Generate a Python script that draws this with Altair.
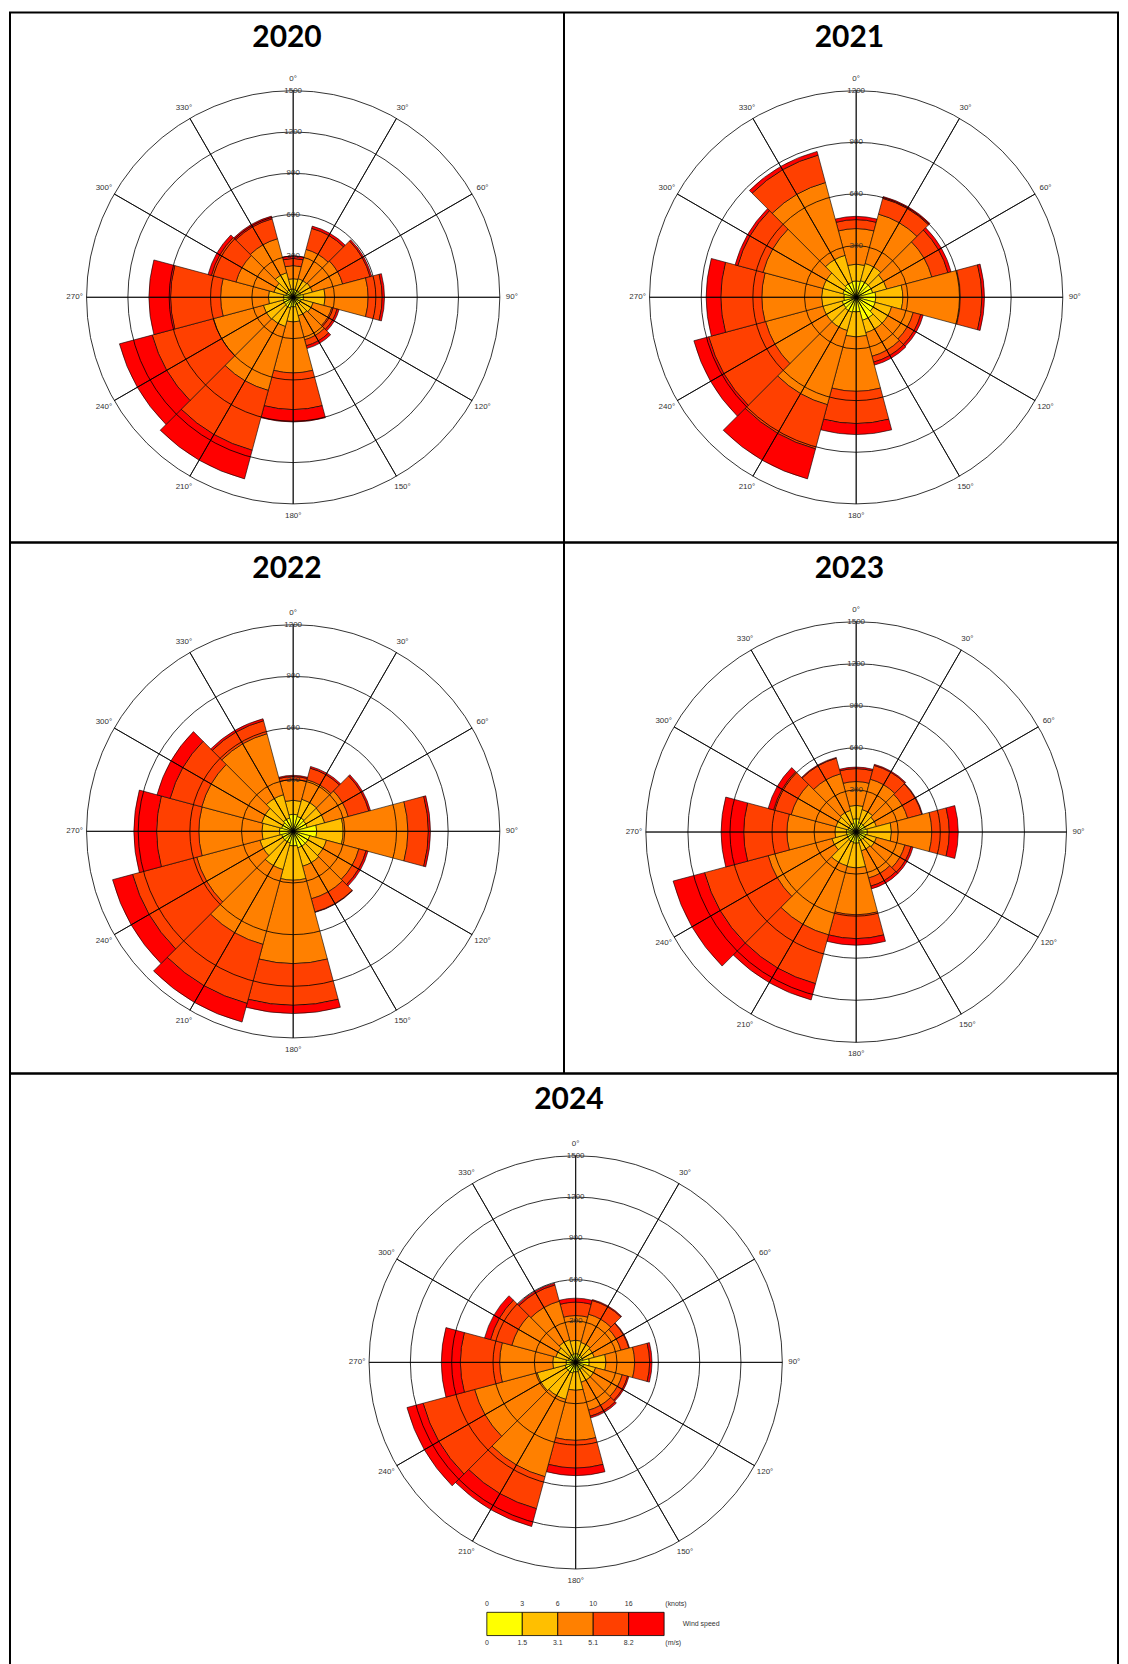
import math
import altair as alt
import pandas as pd

# ---------------- data ----------------
DIRECTIONS = [0, 30, 60, 90, 120, 150, 180, 210, 240, 270, 300, 330]
DIR_LABELS = ["0°", "30°", "60°", "90°", "120°", "150°", "180°", "210°", "240°", "270°", "300°", "330°"]
BANDS = ["0-1.5", "1.5-3.1", "3.1-5.1", "5.1-8.2", ">8.2"]
BAND_COLORS = ["#FFFF00", "#FFBF00", "#FF8000", "#FF4000", "#FF0000"]
KNOT_LABELS = ["0", "3", "6", "10", "16"]
MS_LABELS = ["0", "1.5", "3.1", "5.1", "8.2"]
YEARS = ["2020", "2021", "2022", "2023", "2024"]
RADIAL_MAX = [1500, 1200, 1200, 1500, 1500]

Y2020_B1 = [60, 55, 55, 75, 60, 55, 70, 80, 75, 70, 55, 60]
Y2020_B2 = [75, 85, 90, 157, 90, 85, 109, 140, 150, 110, 90, 125]
Y2020_B3 = [95, 220, 227, 312, 140, 180, 370, 480, 375, 347, 285, 255]
Y2020_B4 = [52, 158, 206, 102, 40, 45, 266, 450, 460, 363, 185, 150]
Y2020_B5 = [20, 17, 12, 17, 15, 20, 90, 215, 246, 157, 25, 20]

Y2021_B1 = [95, 100, 100, 114, 115, 139, 85, 90, 85, 72, 80, 90]
Y2021_B2 = [97, 103, 84, 157, 98, 74, 145, 110, 115, 129, 120, 162]
Y2021_B3 = [207, 297, 271, 334, 130, 142, 316, 446, 345, 347, 360, 438]
Y2021_B4 = [52, 95, 97, 125, 45, 35, 187, 266, 342, 238, 152, 165]
Y2021_B5 = [19, 11, 19, 15, 15, 18, 64, 180, 89, 85, 16, 22]

Y2022_B1 = [99, 90, 85, 137, 100, 100, 85, 70, 70, 80, 70, 80]
Y2022_B2 = [81, 103, 105, 153, 100, 110, 199, 160, 130, 102, 120, 140]
Y2022_B3 = [120, 117, 141, 376, 195, 196, 484, 450, 380, 366, 360, 367]
Y2022_B4 = [18, 70, 124, 119, 43, 79, 242, 355, 386, 245, 190, 78]
Y2022_B5 = [7, 10, 10, 12, 12, 3, 48, 112, 120, 132, 79, 12]

Y2023_B1 = [95, 70, 70, 80, 70, 65, 80, 75, 70, 70, 60, 65]
Y2023_B2 = [95, 96, 80, 172, 80, 75, 176, 175, 110, 82, 90, 95]
Y2023_B3 = [170, 224, 230, 287, 210, 200, 334, 510, 470, 342, 330, 270]
Y2023_B4 = [92, 102, 105, 125, 45, 60, 170, 360, 470, 308, 130, 115]
Y2023_B5 = [11, 8, 5, 64, 15, 20, 47, 120, 232, 161, 40, 6]

Y2024_B1 = [63, 60, 55, 99, 60, 60, 70, 80, 80, 70, 55, 60]
Y2024_B2 = [97, 90, 85, 121, 90, 90, 133, 198, 210, 97, 95, 110]
Y2024_B3 = [180, 212, 200, 208, 200, 210, 363, 582, 470, 385, 330, 290]
Y2024_B4 = [97, 103, 60, 109, 40, 45, 201, 240, 387, 285, 160, 122]
Y2024_B5 = [29, 7, 5, 17, 10, 13, 55, 134, 121, 138, 45, 13]

YEAR_BANDS = [
    [Y2020_B1, Y2020_B2, Y2020_B3, Y2020_B4, Y2020_B5],
    [Y2021_B1, Y2021_B2, Y2021_B3, Y2021_B4, Y2021_B5],
    [Y2022_B1, Y2022_B2, Y2022_B3, Y2022_B4, Y2022_B5],
    [Y2023_B1, Y2023_B2, Y2023_B3, Y2023_B4, Y2023_B5],
    [Y2024_B1, Y2024_B2, Y2024_B3, Y2024_B4, Y2024_B5],
]

# ---------------- layout constants ----------------
CELL_W = 555
FULL_W = 2 * CELL_W
ROW_H = [531, 532, 600]
SECTOR = 30
LABEL_FONT = "Liberation Sans"
TITLE_FONT = "Lato"
TEXT_GREY = "#333333"

THETA_SCALE = alt.Scale(domain=[0, 360], range=[0, 2 * math.pi], nice=False)
BAND_SCALE = alt.Scale(domain=BANDS, range=BAND_COLORS)


def rose_layers(year_idx, cx, cy, R, tx, ty):
    year = YEARS[year_idx]
    rmax = RADIAL_MAX[year_idx]
    bands = YEAR_BANDS[year_idx]
    rscale = alt.Scale(type="linear", domain=[0, rmax], range=[0, R], nice=False, zero=True)

    rows = []
    for i, d in enumerate(DIRECTIONS):
        cum = 0
        for k, b in enumerate(BANDS):
            v = bands[k][i]
            rows.append({"t0": d - SECTOR / 2, "t1": d + SECTOR / 2,
                         "r0": cum, "r1": cum + v, "band": b})
            cum += v
    seg = pd.DataFrame(rows)

    ticks = list(range(300, rmax + 1, 300))
    circ = pd.DataFrame({"tick": ticks, "t0": [0] * len(ticks), "t1": [360] * len(ticks),
                         "lab": [str(t) for t in ticks]})
    spk = pd.DataFrame({"angle": DIRECTIONS, "r": [rmax] * len(DIRECTIONS),
                        "lab": DIR_LABELS})

    bars = alt.Chart(seg).mark_arc(stroke="black", strokeWidth=0.6).encode(
        x=alt.value(cx), y=alt.value(cy),
        theta=alt.Theta("t0:Q", stack=False, scale=THETA_SCALE),
        theta2="t1:Q",
        radius=alt.Radius("r1:Q", stack=False, scale=rscale),
        radius2="r0:Q",
        color=alt.Color("band:N", scale=BAND_SCALE, legend=None),
    )
    circles = alt.Chart(circ).mark_arc(filled=False, stroke="black", strokeWidth=0.8).encode(
        x=alt.value(cx), y=alt.value(cy),
        theta=alt.Theta("t0:Q", stack=False, scale=THETA_SCALE),
        theta2="t1:Q",
        radius=alt.Radius("tick:Q", stack=False, scale=rscale),
    )
    spokes = alt.Chart(spk).mark_arc(filled=False, stroke="black", strokeWidth=0.8).encode(
        x=alt.value(cx), y=alt.value(cy),
        theta=alt.Theta("angle:Q", stack=False, scale=THETA_SCALE),
        theta2="angle:Q",
        radius=alt.Radius("r:Q", stack=False, scale=rscale),
    )
    alabels = alt.Chart(spk).mark_text(font=LABEL_FONT, fontSize=8, color=TEXT_GREY,
                                       baseline="middle", align="center").encode(
        x=alt.value(cx), y=alt.value(cy),
        theta=alt.Theta("angle:Q", stack=False, scale=THETA_SCALE),
        radius=alt.value(R + 12),
        text="lab:N",
    )
    tlabels = alt.Chart(circ).mark_text(font=LABEL_FONT, fontSize=8, color=TEXT_GREY,
                                        baseline="middle", align="center").encode(
        x=alt.value(cx), y=alt.value(cy),
        theta=alt.value(0),
        radius=alt.Radius("tick:Q", stack=False, scale=rscale),
        text="lab:N",
    )
    title = alt.Chart(pd.DataFrame({"t": [year]})).mark_text(
        font=TITLE_FONT, fontSize=30, fontWeight="bold", color="black",
        baseline="middle", align="center").encode(
        x=alt.value(tx), y=alt.value(ty), text="t:N")

    return [bars, circles, spokes, alabels, tlabels, title]


def legend_layers():
    lx = alt.Scale(domain=[0, 5], range=[477.7, 655.3], nice=False)
    leg = pd.DataFrame({"i": list(range(5)), "i2": list(range(1, 6)), "band": BANDS,
                        "kn": KNOT_LABELS, "ms": MS_LABELS})
    boxes = alt.Chart(leg).mark_rect(stroke="black", strokeWidth=0.8).encode(
        x=alt.X("i:Q", scale=lx, axis=None), x2="i2:Q",
        y=alt.value(539.7), y2=alt.value(563),
        color=alt.Color("band:N", scale=BAND_SCALE, legend=None),
    )
    top = alt.Chart(leg).mark_text(font=LABEL_FONT, fontSize=7, color=TEXT_GREY,
                                   baseline="middle", align="center").encode(
        x=alt.X("i:Q", scale=lx, axis=None), y=alt.value(531.3), text="kn:N")
    bot = alt.Chart(leg).mark_text(font=LABEL_FONT, fontSize=7, color=TEXT_GREY,
                                   baseline="middle", align="center").encode(
        x=alt.X("i:Q", scale=lx, axis=None), y=alt.value(570.3), text="ms:N")
    one = pd.DataFrame({"a": [0]})
    knots = alt.Chart(one).mark_text(font=LABEL_FONT, fontSize=7, color=TEXT_GREY,
                                     baseline="middle", align="left", text="(knots)").encode(
        x=alt.value(656.5), y=alt.value(531.3))
    ws = alt.Chart(one).mark_text(font=LABEL_FONT, fontSize=7, color=TEXT_GREY,
                                  baseline="middle", align="left", text="Wind speed").encode(
        x=alt.value(674.0), y=alt.value(551.3))
    ms = alt.Chart(one).mark_text(font=LABEL_FONT, fontSize=7, color=TEXT_GREY,
                                  baseline="middle", align="left", text="(m/s)").encode(
        x=alt.value(656.5), y=alt.value(570.3))
    return [boxes, top, bot, knots, ws, ms]


def divider(h):
    return alt.Chart(pd.DataFrame({"a": [0]})).mark_rule(stroke="black", strokeWidth=2).encode(
        x=alt.value(CELL_W), y=alt.value(0), y2=alt.value(h))


row1 = alt.layer(
    *rose_layers(0, 283.7, 285.3, 207, 277.5, 26),
    *rose_layers(1, CELL_W + 292.7, 285.3, 207, CELL_W + 286, 26),
    divider(ROW_H[0]),
).resolve_scale(radius="independent").properties(width=FULL_W, height=ROW_H[0])

row2 = alt.layer(
    *rose_layers(2, 283.7, 289.3, 207, 277.5, 26.7),
    *rose_layers(3, CELL_W + 292.7, 290.0, 210.7, CELL_W + 286, 26.7),
    divider(ROW_H[1]),
).resolve_scale(radius="independent").properties(width=FULL_W, height=ROW_H[1])

row3 = alt.layer(
    *rose_layers(4, 566.7, 289.3, 207, 560, 26.3),
    *legend_layers(),
).resolve_scale(radius="independent").properties(width=FULL_W, height=ROW_H[2])

chart = alt.vconcat(row1, row2, row3, spacing=0, bounds="flush").properties(
    padding=1
).configure_view(stroke="black", strokeWidth=2)

chart.save("out.html", embed_options={"renderer": "svg", "actions": False})
